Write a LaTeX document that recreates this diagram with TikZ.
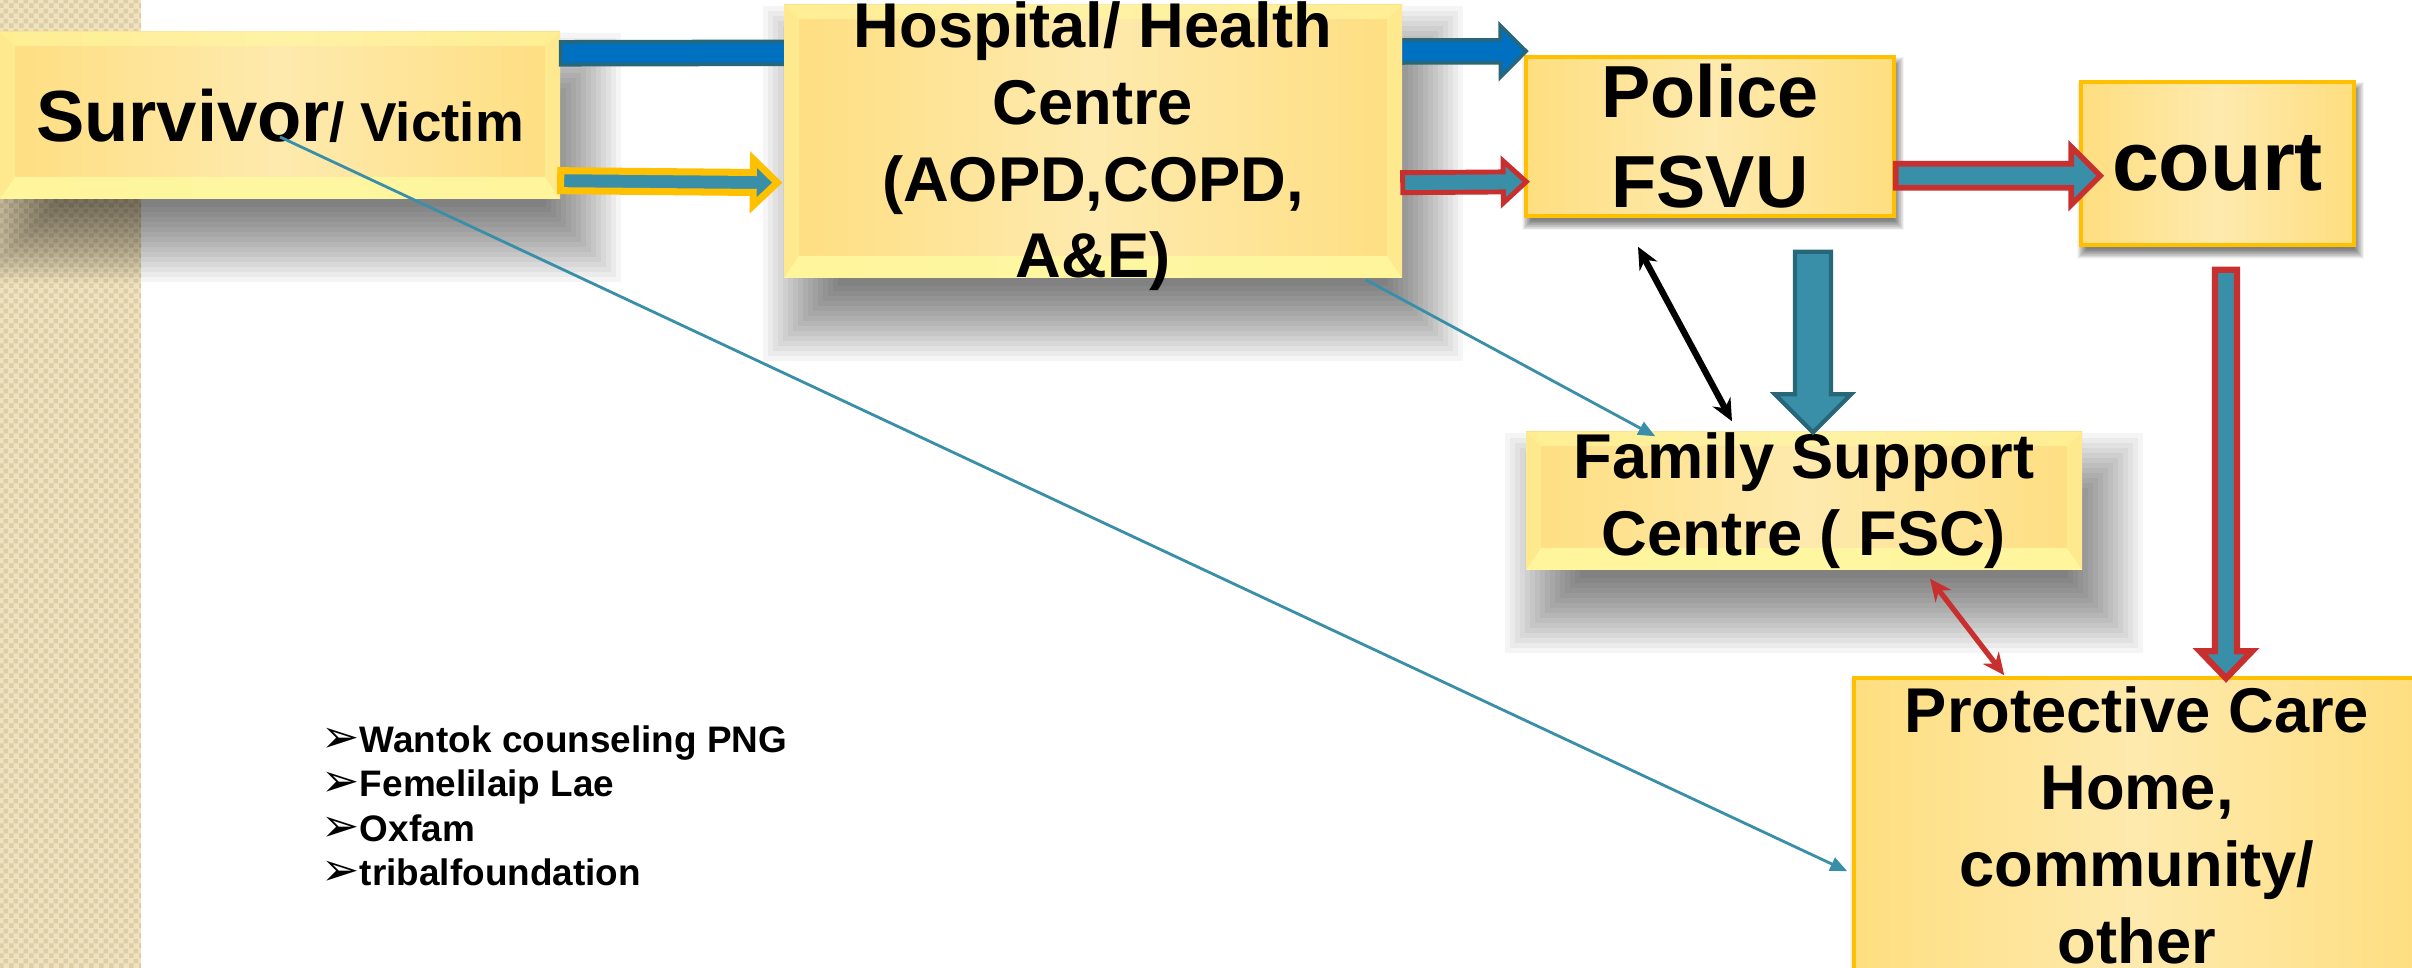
\documentclass[tikz,border=0pt]{standalone}
\usepackage{fontspec}
\setmainfont{Liberation Sans}
\newfontfamily\arrowfont{DejaVu Sans}
\usetikzlibrary{arrows.meta,calc,patterns.meta}
\tikzset {>=Stealth}

\definecolor{stripbg}{RGB}{238,226,192}
\definecolor{stripline}{RGB}{222,206,166}
\definecolor{boxmid}{RGB}{254,234,174}
\definecolor{boxedge}{RGB}{254,222,128}
\definecolor{bevellight}{RGB}{255,248,160}
\definecolor{boxborder}{RGB}{255,192,0}
\definecolor{flowblue}{RGB}{0,112,192}
\definecolor{flowteal}{RGB}{58,143,168}
\definecolor{tealdark}{RGB}{40,102,122}
\definecolor{flowred}{RGB}{200,48,48}

\pgfdeclarelayer{paper}
\pgfdeclarelayer{shadow}
\pgfsetlayers{paper,shadow,main}

\tikzdeclarepattern{name=stripchecks, type=uncolored,
  bounding box={(0,0) and (0.1cm,0.1cm)}, tile size={(0.1cm,0.1cm)},
  code={\fill (0,0) rectangle (0.05cm,0.05cm); \fill (0.05cm,0.05cm) rectangle (0.1cm,0.1cm);}}

\tikzset{
  boxfill/.style={inner sep=0pt, align=center, left color=boxedge, right color=boxedge,
    middle color=boxmid, font=\fontsize{18}{21.9}\selectfont\bfseries},
  bevelbox/.style={boxfill,
    path picture={
      \path (path picture bounding box.south west) coordinate (bv1)
            (path picture bounding box.north east) coordinate (bv2);
      \fill[bevellight, opacity=0.9] (bv1) -- (bv1 -| bv2) -- ++(-0.15,0.22) -- ($(bv1)+(0.15,0.22)$) -- cycle;
      \fill[bevellight, opacity=0.6] (bv2) -- (bv1 |- bv2) -- ++(0.15,-0.14) -- ($(bv2)+(-0.15,-0.14)$) -- cycle;
      \fill[bevellight, opacity=0.45] (bv1) -- (bv1 |- bv2) -- ++(0.15,-0.14) -- ($(bv1)+(0.15,0.22)$) -- cycle;
      \fill[bevellight, opacity=0.45] (bv2) -- (bv1 -| bv2) -- ++(-0.15,0.22) -- ($(bv2)+(-0.15,-0.14)$) -- cycle;
    }},
  flatbox/.style={boxfill, draw=boxborder, line width=1pt},
  thinlink/.style={flowteal, line width=0.8pt, -{Triangle[length=0.17cm,width=0.14cm]}},
  bothways/.style={line width=1.8pt, {Stealth[length=0.22cm,width=0.2cm]}-{Stealth[length=0.22cm,width=0.2cm]}},
  orglist/.style={inner sep=0pt, align=left, font=\fontsize{10.5}{12.66}\selectfont\bfseries}
}

% block arrow: style, from, to, shaft half width, head half width, head length
\newcommand{\blockarrow}[6]{%
  \coordinate (ba-s) at (#2);
  \coordinate (ba-t) at (#3);
  \coordinate (ba-b) at ($(ba-t)!#6!(ba-s)$);
  \path[#1] ($(ba-s)!#4!90:(ba-t)$) -- ($(ba-b)!#4!-90:(ba-s)$) -- ($(ba-b)!#5!-90:(ba-s)$)
    -- (ba-t) -- ($(ba-b)!#5!90:(ba-s)$) -- ($(ba-b)!#4!90:(ba-s)$) -- ($(ba-s)!#4!-90:(ba-t)$) -- cycle;
}
% soft shadow: node, xshift, yshift, blur
\newcommand{\softshadow}[4]{%
  \foreach \k in {0,...,15}{%
    \fill[black, opacity=0.04]
      ($(#1.south west)+(#2,#3)+(-#4+\k*#4/8,-#4+\k*#4/8)$) rectangle
      ($(#1.north east)+(#2,#3)+(#4-\k*#4/8,#4-\k*#4/8)$);
  }}
\newcommand{\orgbullet}{{\arrowfont\fontsize{13}{12.66}\selectfont ➢}}

\begin{document}
\begin{tikzpicture}
\useasboundingbox (0,0) rectangle (24.12,-9.68);
\begin{pgfonlayer}{paper}
\fill[white] (0,0) rectangle (24.12,-9.68);
% side strip
\fill[stripbg] (0,0) rectangle (1.41,-9.68);
\fill[pattern=stripchecks, pattern color=stripline] (0,0) rectangle (1.41,-9.68);
\end{pgfonlayer}

\node[bevelbox, minimum width=5.6cm, minimum height=1.67cm] (surv) at (2.80,-1.155)
  {{\fontsize{20.6}{24}\selectfont Survivor}{\fontsize{15.6}{18}\selectfont / Victim}};
\node[flatbox, minimum width=3.68cm, minimum height=1.59cm, font=\fontsize{21}{25.6}\selectfont\bfseries] (police) at (17.10,-1.365)
  {Police\\FSVU};

\blockarrow{fill=flowblue, draw=tealdark, line width=1pt}{$(surv.north east)+(0,-0.22)$}{$(police.north west)+(0.02,0.04)$}{0.115cm}{0.26cm}{0.26cm}

\node[bevelbox, minimum width=6.18cm, minimum height=2.69cm, text height=2.73cm, text depth=-0.04cm] (hosp) at (10.93,-1.415)
  {Hospital/ Health\\Centre\\(AOPD,COPD,\\A\&E)};
\node[flatbox, minimum width=2.73cm, minimum height=1.63cm, font=\fontsize{24}{28}\selectfont\bfseries] (court) at (22.175,-1.635)
  {court};
\node[bevelbox, minimum width=5.56cm, minimum height=1.38cm] (fsc) at (18.04,-5.01)
  {Family Support\\Centre ( FSC)};
\node[flatbox, minimum width=5.66cm, minimum height=2.95cm] (prot) at (21.37,-8.255)
  {Protective Care\\Home,\\community/\\other};

\node[orglist, anchor=north west] (orgs) at (3.21,-7.25)
  {\orgbullet Wantok counseling PNG\\\orgbullet Femelilaip Lae\\\orgbullet Oxfam\\\orgbullet tribalfoundation};

% shadows
\begin{pgfonlayer}{shadow}
\softshadow{surv}{0.2}{-0.42}{0.4}
\softshadow{hosp}{0.2}{-0.42}{0.4}
\softshadow{fsc}{0.2}{-0.42}{0.4}
\softshadow{police}{0.03}{-0.07}{0.05}
\softshadow{court}{0.03}{-0.07}{0.05}
\softshadow{prot}{0.03}{-0.07}{0.05}
\end{pgfonlayer}

% block arrows
\blockarrow{fill=flowteal, draw=boxborder, line width=2pt}{$(surv.south east)+(0,0.19)$}{$(hosp.south west)+(-0.06,0.96)$}{0.1cm}{0.23cm}{0.24cm}
\blockarrow{fill=flowteal, draw=flowred, line width=1.4pt}{$(hosp.south east)+(0,0.96)$}{$(police.south west)+(0.02,0.36)$}{0.1cm}{0.21cm}{0.23cm}
\blockarrow{fill=flowteal, draw=flowred, line width=1.6pt}{$(police.south east)+(0,0.42)$}{$(court.south west)+(0.21,0.71)$}{0.12cm}{0.29cm}{0.29cm}
\blockarrow{fill=flowteal, draw=tealdark, line width=1.2pt}{$(police.south)+(1.03,-0.34)$}{$(fsc.north)+(0.09,-0.01)$}{0.18cm}{0.38cm}{0.38cm}
\blockarrow{fill=flowteal, draw=flowred, line width=1.8pt}{$(court.south)+(0.085,-0.23)$}{$(prot.north)+(0.89,-0.02)$}{0.11cm}{0.26cm}{0.27cm}

% thin links
\draw[bothways] ($(police.south)+(-0.72,-0.29)$) -- ($(fsc.north)+(-0.72,0.10)$);
\draw[bothways, flowred, line width=1.5pt] ($(fsc.south)+(1.26,-0.08)$) -- ($(prot.north west)+(1.52,0.01)$);
\draw[thinlink] ($(hosp.south east)+(-0.37,-0.01)$) -- ($(fsc.north west)+(1.30,-0.05)$);
\draw[thinlink] ($(surv.center)+(0,-0.215)$) -- ($(prot.north west)+(-0.05,-1.95)$);
\end{tikzpicture}
\end{document}
